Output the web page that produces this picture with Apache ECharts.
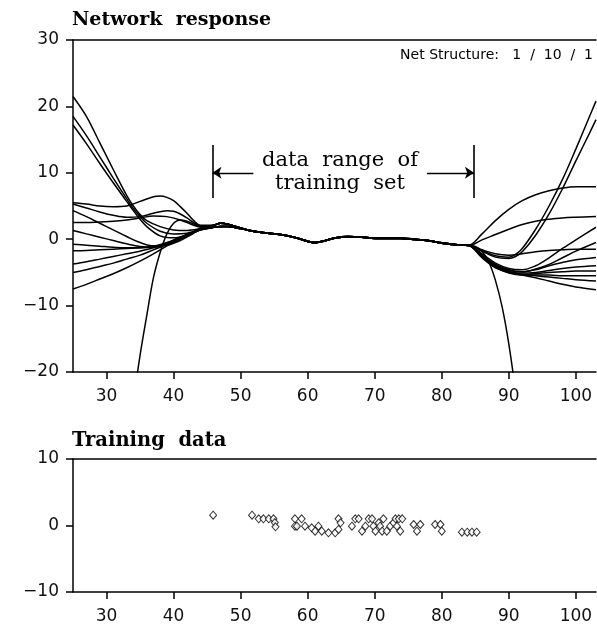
<!DOCTYPE html>
<html>
<head>
<meta charset="utf-8">
<script src="https://cdn.jsdelivr.net/npm/echarts@6/dist/echarts.min.js"></script>
<style>html,body{margin:0;padding:0;background:#fff}#c{width:597px;height:626px}</style>
</head>
<body>
<div id="c"></div>
<script>
// ---------- data ----------
const xTicks = [30, 40, 50, 60, 70, 80, 90, 100];
const yTicksTop = [-20, -10, 0, 10, 20, 30];
const yTicksBottom = [-10, 0, 10];

// common part of all network responses inside the training range
const centerX  = [46, 47, 48, 50, 52, 54, 56, 58, 60, 61, 62, 64, 66, 68, 70, 72, 74, 76, 78, 80, 82, 84];
const centerHi = [2.1, 2.4, 2.3, 1.7, 1.2, 0.95, 0.7, 0.3, -0.3, -0.5, -0.35, 0.2, 0.4, 0.35, 0.15, 0.15, 0.15, 0.0, -0.2, -0.55, -0.8, -0.9];
const centerLo = [1.8, 1.9, 1.9, 1.6, 1.15, 0.9, 0.65, 0.25, -0.35, -0.55, -0.4, 0.15, 0.35, 0.3, 0.1, 0.1, 0.1, -0.05, -0.25, -0.6, -0.85, -0.95];

// left extrapolations
const leftA = [[25,21.5],[27,18.5],[29,14.5],[31,10.5],[33,6.6],[34,5.0],[35,3.7],[36,2.8],[38,1.9],[40,1.4],[42,1.3],[44,1.6]];
const leftB = [[25,18.5],[27,15.6],[29,12.4],[31,9.2],[33,6.1],[34,4.6],[35,3.4],[36,2.4],[38,1.2],[40,0.8],[42,0.9],[44,1.5]];
const leftC = [[25,17.2],[27,14.4],[29,11.4],[31,8.5],[33,5.7],[34,4.3],[35,3.0],[36,1.9],[38,0.5],[40,0.2],[42,0.6],[44,1.4]];
const leftD = [[25,5.5],[27,5.3],[29,5.0],[31,4.9],[33,5.0],[35,5.7],[37,6.4],[38,6.5],[39,6.3],[40,5.8],[41,4.9],[42,3.9],[43,2.8],[44,2.1]];
const leftE = [[25,5.3],[27,4.7],[29,4.1],[31,3.6],[33,3.3],[35,3.4],[37,3.9],[39,4.3],[40,4.2],[41,3.8],[42,3.2],[43,2.5],[44,2.0]];
const leftF = [[25,4.3],[27,3.4],[29,2.4],[31,1.4],[33,0.4],[35,-0.5],[37,-1.0],[39,-0.9],[41,-0.2],[43,0.9],[44,1.4]];
const leftG = [[25,2.5],[27,2.5],[29,2.6],[31,2.7],[33,2.9],[35,3.2],[37,3.5],[39,3.4],[41,2.9],[43,2.1],[44,1.8]];
const leftH = [[25,1.3],[27,0.8],[29,0.3],[31,-0.2],[33,-0.7],[35,-1.1],[37,-1.2],[39,-0.8],[41,0.0],[43,1.0],[44,1.4]];
const leftJ = [[25,-0.75],[27,-0.9],[29,-1.05],[31,-1.2],[33,-1.3],[35,-1.3],[37,-1.1],[39,-0.6],[41,0.2],[43,1.1],[44,1.5]];
const leftK = [[25,-1.75],[27,-1.7],[29,-1.6],[31,-1.5],[33,-1.4],[35,-1.3],[37,-1.1],[39,-0.5],[41,0.3],[43,1.1],[44,1.5]];
const leftL = [[25,-3.75],[27,-3.4],[29,-3.0],[31,-2.6],[33,-2.2],[35,-1.8],[37,-1.3],[39,-0.6],[41,0.3],[43,1.1],[44,1.5]];
const leftM = [[25,-5.0],[27,-4.6],[29,-4.1],[31,-3.6],[33,-3.0],[35,-2.4],[37,-1.6],[39,-0.8],[41,0.2],[43,1.1],[44,1.5]];
const leftN = [[25,-7.5],[27,-6.8],[29,-6.0],[31,-5.2],[33,-4.3],[35,-3.3],[37,-2.2],[39,-1.0],[41,0.1],[43,1.1],[44,1.5]];
const leftP = [[33,-32],[34,-24.5],[35,-17.5],[36,-11.5],[37,-5.8],[38,-2.0],[39,0.8],[40,2.4],[41,2.9],[42,2.7],[43,2.3],[44,1.9]];

// right extrapolations
const right1  = [[86,-1.7],[88,-2.5],[90,-2.7],[91,-2.3],[92,-1.4],[94,1.5],[96,5.0],[98,9.0],[100,13.6],[102,18.4],[103,20.8]];
const right2  = [[86,-1.8],[88,-2.7],[90,-2.9],[91,-2.6],[92,-1.9],[94,0.6],[96,3.8],[98,7.6],[100,11.8],[102,15.9],[103,18.0]];
const right3  = [[86,0.8],[88,2.8],[90,4.5],[92,5.8],[94,6.7],[96,7.3],[98,7.7],[100,7.9],[103,7.9]];
const right4  = [[86,-0.1],[88,0.7],[90,1.5],[92,2.2],[94,2.7],[96,3.0],[98,3.2],[100,3.3],[103,3.4]];
const right5  = [[86,-2.2],[88,-3.6],[90,-4.4],[92,-4.6],[94,-4.0],[96,-2.8],[98,-1.4],[100,-0.1],[103,1.8]];
const right6  = [[86,-1.6],[88,-2.2],[90,-2.4],[92,-2.2],[94,-1.9],[96,-1.7],[98,-1.6],[100,-1.5],[103,-1.5]];
const right7  = [[86,-2.4],[88,-3.9],[90,-4.7],[92,-4.9],[94,-4.6],[96,-4.0],[98,-3.5],[100,-3.1],[103,-2.75]];
const right8  = [[86,-2.5],[88,-4.0],[90,-4.9],[92,-5.1],[94,-5.0],[96,-4.7],[98,-4.4],[100,-4.2],[103,-4.0]];
const right9  = [[86,-2.6],[88,-4.1],[90,-5.0],[92,-5.3],[94,-5.2],[96,-5.0],[98,-4.9],[100,-4.8],[103,-4.8]];
const right10 = [[86,-2.7],[88,-4.2],[90,-5.1],[92,-5.4],[94,-5.4],[96,-5.4],[98,-5.5],[100,-5.5],[103,-5.5]];
const right11 = [[86,-2.8],[88,-4.3],[90,-5.0],[92,-5.4],[94,-5.8],[96,-6.3],[98,-6.8],[100,-7.2],[103,-7.6]];
const right12 = [[86,-2.5],[88,-3.8],[90,-4.6],[92,-4.9],[94,-4.5],[96,-3.8],[98,-2.8],[100,-1.8],[103,-0.5]];
const right13 = [[86,-2.6],[88,-4.0],[90,-4.9],[92,-5.3],[94,-5.5],[96,-5.7],[98,-5.9],[100,-6.1],[103,-6.3]];
const rightP  = [[85,-1.1],[86,-1.8],[87,-3.4],[88,-6.2],[89,-10.2],[90,-15.8],[91,-23],[92,-32]];

// training data
const trainX = [45.9,51.7,52.7,53.4,54.2,54.9,55.1,55.2,58.1,58.1,59.1,58.4,59.6,60.6,61.1,61.6,62.1,63.1,64.1,64.6,64.6,64.9,66.6,67.1,67.6,68.1,68.6,69.1,69.6,69.8,70.1,70.6,70.8,71.1,71.3,71.8,72.3,72.8,73.1,73.6,74.1,73.3,73.8,75.8,76.3,76.8,79.0,79.8,80.0,83.0,83.8,84.5,85.2];
const trainY = [1.55,1.55,1.0,1.0,1.0,1.0,0.45,-0.2,1.0,-0.1,1.0,-0.1,-0.1,-0.35,-0.85,-0.1,-0.85,-1.1,-1.1,-0.6,1.0,0.4,-0.1,1.0,1.0,-0.85,-0.1,1.0,1.0,-0.1,-0.85,0.4,-0.1,-0.85,1.0,-0.85,-0.1,0.4,1.0,1.0,1.0,-0.1,-0.85,0.15,-0.85,0.15,0.15,0.15,-0.85,-1.0,-1.0,-1.0,-1.0];

// annotation: training range
const rangeBounds = [45.8, 84.8];
const rangeBarY = [6.2, 14.2];
const arrowY = 10;
const arrowInnerEnds = [51.9, 77.8];

// ---------- build ----------
function withCenter(left, center, right) {
  return left.concat(centerX.map((x, i) => [x, center[i]])).concat(right);
}
const curves = [
  withCenter(leftA, centerHi, right1),
  withCenter(leftB, centerHi, right2),
  withCenter(leftC, centerLo, right12),
  withCenter(leftD, centerHi, right3),
  withCenter(leftE, centerLo, right4),
  withCenter(leftF, centerLo, right5),
  withCenter(leftG, centerHi, right6),
  withCenter(leftH, centerLo, right7),
  withCenter(leftJ, centerLo, right8),
  withCenter(leftK, centerHi, right9),
  withCenter(leftL, centerLo, right10),
  withCenter(leftM, centerHi, right11),
  withCenter(leftN, centerLo, right13),
  withCenter(leftP, centerHi, rightP)
];

const font = '"DejaVu Sans", sans-serif';
const minus = v => String(v).replace('-', '\u2212');

function xAxisBottom(gi) {
  return {
    type: 'value', gridIndex: gi, min: 25, max: 103, position: 'bottom',
    axisLine: { show: true, onZero: false, lineStyle: { color: '#000', width: 1.5 } },
    axisTick: { show: true, customValues: xTicks, length: 7, inside: false, lineStyle: { color: '#000', width: 1.5 } },
    axisLabel: { show: true, customValues: xTicks, margin: 16, color: '#111', fontSize: 17, fontFamily: font },
    splitLine: { show: false }
  };
}
function xAxisTop(gi) {
  return {
    type: 'value', gridIndex: gi, min: 25, max: 103, position: 'top',
    axisLine: { show: true, onZero: false, lineStyle: { color: '#000', width: 1.5 } },
    axisTick: { show: false }, axisLabel: { show: false }, splitLine: { show: false }
  };
}
function yAxis(gi, ticks) {
  return {
    type: 'value', gridIndex: gi, min: ticks[0], max: ticks[ticks.length - 1], interval: 10,
    axisLine: { show: true, onZero: false, lineStyle: { color: '#000', width: 1.5 } },
    axisTick: { show: true, length: 7, lineStyle: { color: '#000', width: 1.5 } },
    axisLabel: { show: true, margin: 14, color: '#111', fontSize: 17, fontFamily: font, formatter: minus },
    splitLine: { show: false }
  };
}

const series = curves.map((d, i) => ({
  type: 'line', xAxisIndex: 0, yAxisIndex: 0, data: d, smooth: 0.35,
  showSymbol: false, symbol: 'none', silent: true, clip: true,
  lineStyle: { color: '#000', width: 1.5 },
  markLine: i === 0 ? {
    silent: true, symbolSize: 9, label: { show: false },
    lineStyle: { color: '#000', type: 'solid', width: 1.4 },
    data: [
      [{ coord: [rangeBounds[0], rangeBarY[0]], symbol: 'none' }, { coord: [rangeBounds[0], rangeBarY[1]], symbol: 'none', lineStyle: { width: 2, color: '#333' } }],
      [{ coord: [rangeBounds[1], rangeBarY[0]], symbol: 'none' }, { coord: [rangeBounds[1], rangeBarY[1]], symbol: 'none', lineStyle: { width: 2, color: '#333' } }],
      [{ coord: [rangeBounds[0], arrowY], symbol: 'arrow' }, { coord: [arrowInnerEnds[0], arrowY], symbol: 'none' }],
      [{ coord: [arrowInnerEnds[1], arrowY], symbol: 'none' }, { coord: [rangeBounds[1], arrowY], symbol: 'arrow' }]
    ]
  } : undefined
}));

series.push({
  type: 'scatter', xAxisIndex: 2, yAxisIndex: 1,
  data: trainX.map((x, i) => [x, trainY[i]]),
  symbol: 'diamond', symbolSize: [7, 8], silent: true,
  itemStyle: { color: '#fff', borderColor: '#000', borderWidth: 1 }
});

const chart = echarts.init(document.getElementById('c'), null, { renderer: 'canvas' });
chart.setOption({
  animation: false,
  backgroundColor: '#fff',
  grid: [
    { left: 73, top: 40, right: 1, height: 332, containLabel: false },
    { left: 73, top: 459, right: 1, height: 133, containLabel: false }
  ],
  xAxis: [xAxisBottom(0), xAxisTop(0), xAxisBottom(1), xAxisTop(1)],
  yAxis: [yAxis(0, yTicksTop), yAxis(1, yTicksBottom)],
  series: series,
  graphic: [
    { type: 'text', x: 72, y: 20, style: { text: 'Network  response', font: 'bold 19px "DejaVu Serif", serif', fill: '#000', verticalAlign: 'middle', textVerticalAlign: 'middle' } },
    { type: 'text', x: 72, y: 441, style: { text: 'Training  data', font: 'bold 19.5px "DejaVu Serif", serif', fill: '#000', verticalAlign: 'middle', textVerticalAlign: 'middle' } },
    { type: 'text', x: 593, y: 55, style: { text: 'Net Structure:   1  /  10  /  1', font: '14px "DejaVu Sans", sans-serif', fill: '#000', align: 'right', textAlign: 'right', verticalAlign: 'middle', textVerticalAlign: 'middle' } },
    { type: 'text', x: 340, y: 161, style: { text: 'data  range  of', font: '21px "DejaVu Serif", serif', fill: '#000', align: 'center', textAlign: 'center', verticalAlign: 'middle', textVerticalAlign: 'middle' } },
    { type: 'text', x: 340, y: 184, style: { text: 'training  set', font: '21px "DejaVu Serif", serif', fill: '#000', align: 'center', textAlign: 'center', verticalAlign: 'middle', textVerticalAlign: 'middle' } }
  ]
});
</script>
</body>
</html>
